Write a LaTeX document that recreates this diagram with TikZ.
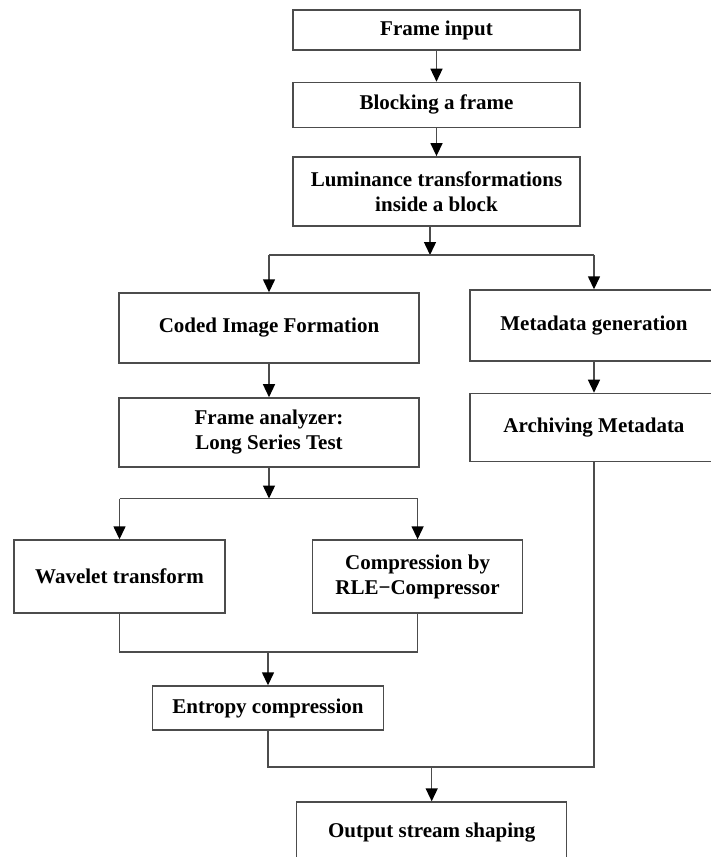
\documentclass[tikz,border=0pt]{standalone}
\usepackage{fontspec}
\setmainfont{Liberation Serif}
\usetikzlibrary{positioning,arrows.meta}
\begin{document}
\begin{tikzpicture}[x=1pt, y=-1pt, node distance=31pt,
  every node/.style = {shape=rectangle, draw=black!70, line width=1.4pt, align=center, inner sep=2pt, font=\bfseries\fontsize{21}{25}\selectfont},
  arr/.style = {draw=black!70, line width=1.4pt, -{Triangle[width=12pt, length=13pt, color=black]}},
  link/.style = {draw=black!70, line width=1.4pt}]
  \useasboundingbox (0,0) rectangle (710,857);
  \node (fin) [minimum width=287pt, minimum height=40pt] at (436.5,30) {Frame input};
  \node (blk) [below=31pt of fin, minimum width=287pt, minimum height=45pt] {Blocking a frame};
  \node (lum) [below=28pt of blk, minimum width=287pt, minimum height=69pt] {Luminance transformations\\inside a block};
  \node (cod) [minimum width=300pt, minimum height=70pt] at (269,328) {Coded Image Formation};
  \node (fra) [below=33.5pt of cod, minimum width=300pt, minimum height=69pt] {Frame analyzer:\\Long Series Test};
  \node (meta) [minimum width=248pt, minimum height=71pt] at (594,325.5) {Metadata generation};
  \node (arc) [below=31pt of meta, minimum width=248pt, minimum height=68pt] {Archiving Metadata};
  \node (wav) [minimum width=211pt, minimum height=73pt] at (119.5,576.5) {Wavelet transform};
  \node (rle) [minimum width=210pt, minimum height=73pt] at (417.6,576.5) {Compression by\\RLE−Compressor};
  \node (ent) [minimum width=231pt, minimum height=44pt] at (268,708) {Entropy compression};
  \node (out) [minimum width=270pt, minimum height=62pt] at (431.7,833) {Output stream shaping};
  \coordinate (s1) at (430,255);
  \coordinate (s2) at (269,498.5);
  \coordinate (m1) at (268,652);
  \coordinate (m2) at (431.7,767);
  \draw[arr] (fin) -- (blk);
  \draw[arr] (blk) -- (lum);
  \draw[arr] (lum.south -| s1) -- (s1);
  \draw[link] (cod.north |- s1) -- (meta.north |- s1);
  \draw[arr] (cod.north |- s1) -- (cod.north);
  \draw[arr] (meta.north |- s1) -- (meta.north);
  \draw[arr] (cod) -- (fra);
  \draw[arr] (meta) -- (arc);
  \draw[arr] (fra) -- (s2);
  \draw[link] (wav.north |- s2) -- (rle.north |- s2);
  \draw[arr] (wav.north |- s2) -- (wav.north);
  \draw[arr] (rle.north |- s2) -- (rle.north);
  \draw[link] (wav) |- (m1) -| (rle);
  \draw[arr] (m1) -- (ent);
  \draw[link] (ent) |- (m2) -| (arc);
  \draw[arr] (m2) -- (out);
\end{tikzpicture}
\end{document}
